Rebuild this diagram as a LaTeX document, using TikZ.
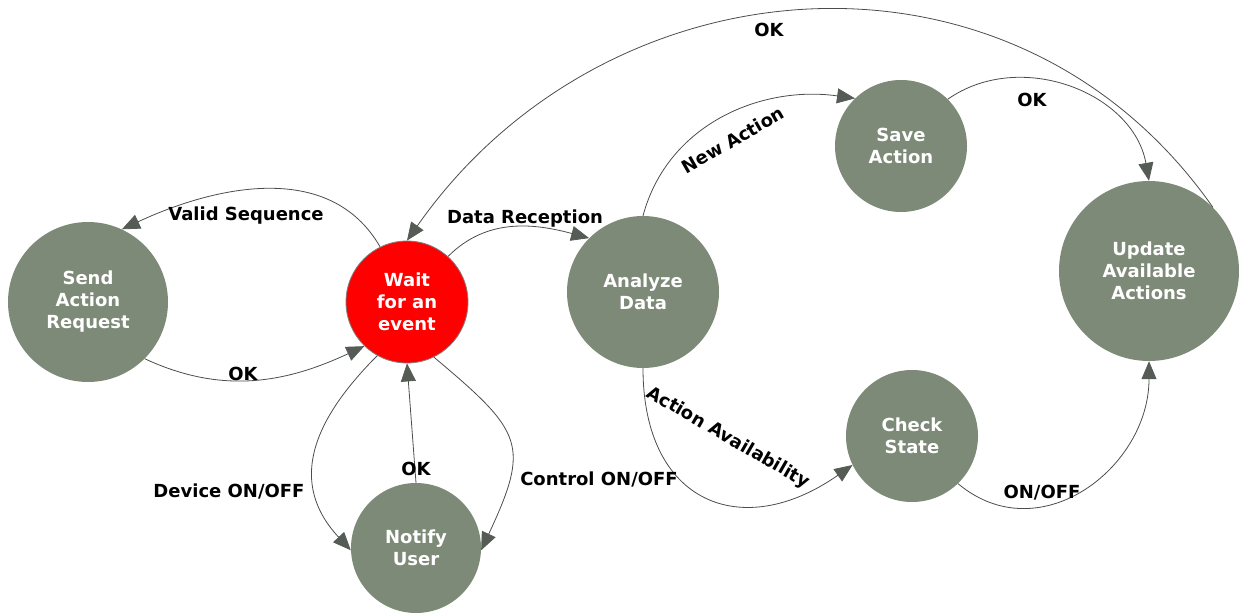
\documentclass[tikz,border=0pt]{standalone}
\usepackage{fontspec}
\setmainfont{DejaVu Sans}
\usetikzlibrary{arrows.meta}

\definecolor{stategreen}{HTML}{7E8A78}
\definecolor{edgegray}{HTML}{4A4E4A}
\definecolor{tipgray}{HTML}{555C55}

\tikzset{
  statenode/.style={circle, fill=stategreen, text=white, align=center, inner sep=0pt,
    font=\bfseries\fontsize{18}{22}\selectfont},
  trans/.style={draw=edgegray, line width=0.8pt,
    -{Triangle[length=18pt,width=15pt,color=tipgray]}},
  lbl/.style={font=\bfseries\fontsize{18}{22}\selectfont, text=black, inner sep=0pt}
}

\begin{document}
\begin{tikzpicture}[x=1pt,y=1pt]
	\useasboundingbox (0,0) rectangle (1239,614);
	
	% States
	\node[statenode, minimum size=160pt] (send) at (88,312) {Send\\Action\\Request};
	\node[statenode, minimum size=122pt, fill=red, draw=gray, line width=0.8pt] (wait) at (407,312) {Wait\\for an\\event};
	\node[statenode, minimum size=130pt] (notify) at (416,66) {Notify\\User};
	\node[statenode, minimum size=152pt] (analyze) at (643,322) {Analyze\\Data};
	\node[statenode, minimum size=132pt] (save) at (901,468) {Save\\Action};
	\node[statenode, minimum size=180pt] (update) at (1149,343) {Update\\Available\\Actions};
	\node[statenode, minimum size=132pt] (check) at (912,178) {Check\\State};
	
	% Transitions
	\draw[trans] (wait.116) to[out=120,in=25] (send.65);
	\draw[trans] (send.-45) to[out=-25,in=205] (wait.226);
	\draw[trans] (wait.48) to[out=45,in=165] (analyze.135);
	\draw[trans] (update.45) to[out=125,in=55,looseness=1.1] (wait.90);
	\draw[trans] (analyze.90) to[out=75,in=172] (save.134);
	\draw[trans] (save.45) to[out=35,in=100,looseness=1.05] (update.90);
	\draw[trans] (analyze.270) to[out=270,in=215,looseness=1.5] (check.206);
	\draw[trans] (check.-46) to[out=-40,in=270,looseness=1.2] (update.270);
	\draw[trans] (wait.241) to[out=225,in=133,looseness=1.2] (notify.182);
	\draw[trans] (wait.-64) to[out=-40,in=65,looseness=1.5] (notify.-2);
	\draw[trans] (notify.north) -- (wait.south);
	
	% Labels
	\node[lbl] (lvalid) at (246,398) {Valid Sequence};
	\node[lbl] (lok1) at (243,240) {OK};
	\node[lbl] (ldata) at (525,395) {Data Reception};
	\node[lbl] (lok2) at (769,584) {OK};
	\node[lbl, rotate=30] (lnew) at (733,474) {New Action};
	\node[lbl] (lok3) at (1032,514) {OK};
	\node[lbl, rotate=-30] (lavail) at (728,176) {Action Availability};
	\node[lbl] (lonoff) at (1042,121) {ON/OFF};
	\node[lbl] (ldevice) at (229,123) {Device ON/OFF};
	\node[lbl] (lcontrol) at (599,135) {Control ON/OFF};
	\node[lbl] (lok4) at (416,145) {OK};
\end{tikzpicture}
\end{document}
